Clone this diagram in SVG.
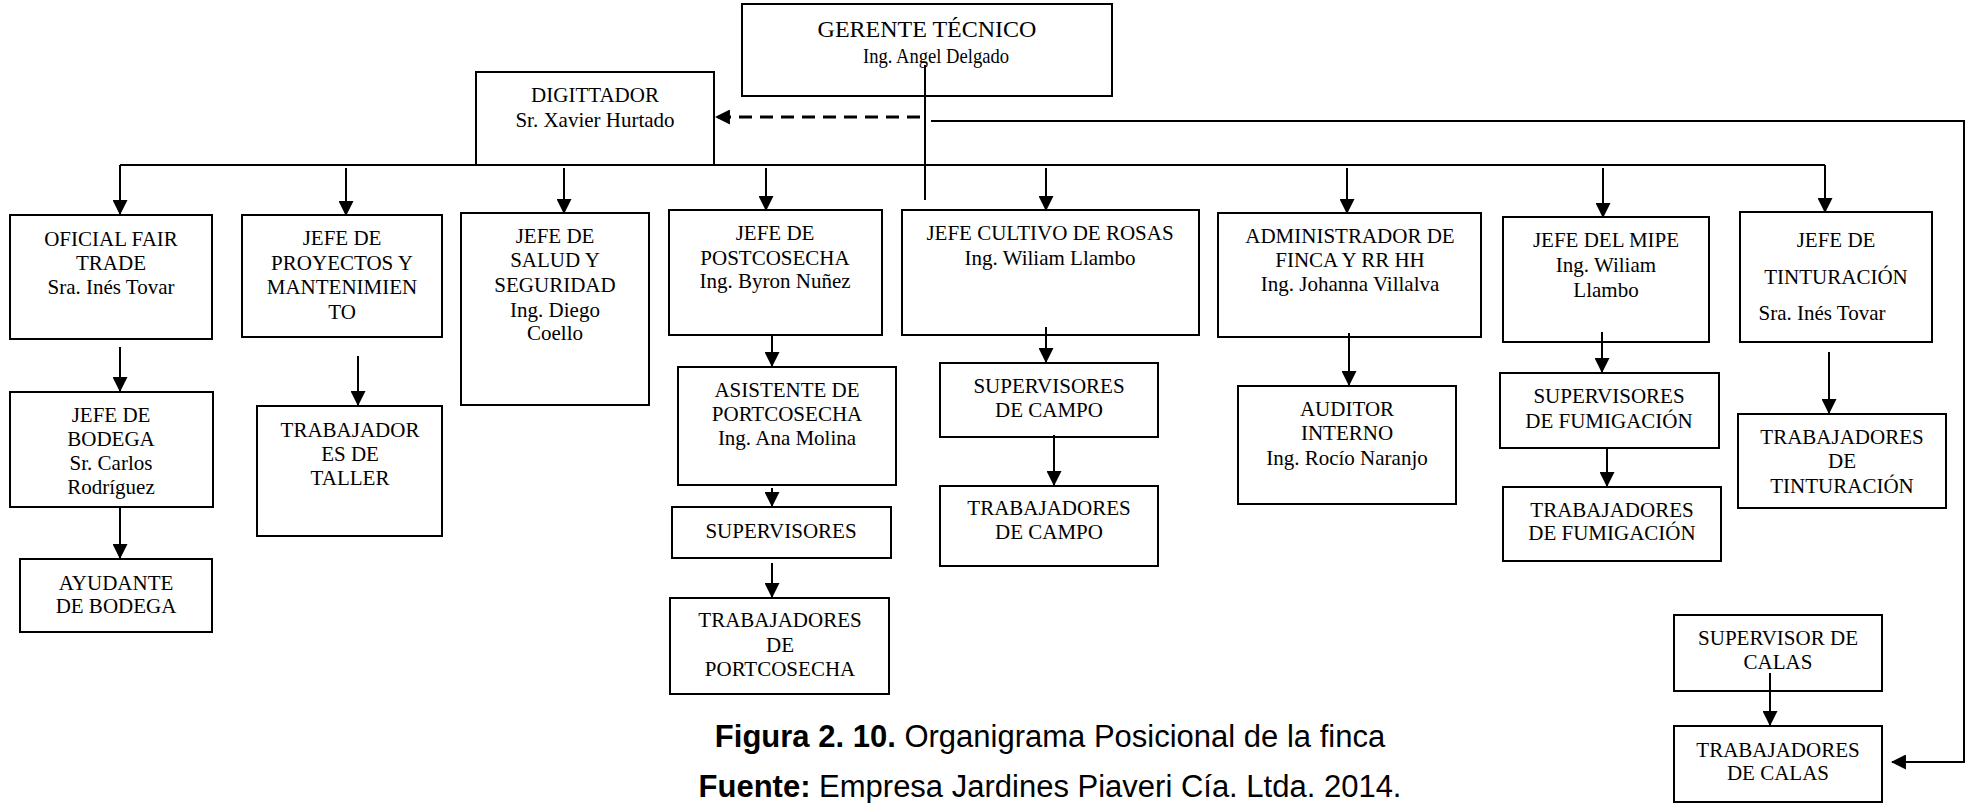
<svg xmlns="http://www.w3.org/2000/svg" width="1966" height="803" viewBox="0 0 1966 803">
<style>
.box{fill:#fff;stroke:#000;stroke-width:2}
.t{font-family:"Liberation Serif","Times New Roman",serif;font-size:21px;text-anchor:middle;fill:#000}
.cap{font-family:"Liberation Sans",Arial,sans-serif;font-size:31px;text-anchor:middle;fill:#000}
.b{font-weight:bold}
.ln{stroke:#000;stroke-width:2;fill:none}
.ar{stroke:#000;stroke-width:2;fill:none;marker-end:url(#ah)}
.dash{stroke:#000;stroke-width:3;fill:none;stroke-dasharray:13 8;marker-end:url(#ah)}
</style>
<defs>
<marker id="ah" markerUnits="userSpaceOnUse" markerWidth="15" markerHeight="15" viewBox="0 0 14 14" refX="13" refY="7" orient="auto">
<path d="M0,0 L14,7 L0,14 z" fill="#000"/>
</marker>
</defs>
<rect width="1966" height="803" fill="#fff"/>

<g id="gerente"><rect class="box" x="742" y="4" width="370" height="92"/>
<text class="t" x="927" y="37" style="font-size:24px">GERENTE TÉCNICO</text>
<text class="t" x="936" y="63" textLength="146" lengthAdjust="spacingAndGlyphs">Ing. Angel Delgado</text></g>

<g id="digittador"><rect class="box" x="476" y="72" width="238" height="93"/>
<text class="t" x="595" y="102">DIGITTADOR</text>
<text class="t" x="595" y="127">Sr. Xavier Hurtado</text></g>

<g id="fairtrade"><rect class="box" x="10" y="215" width="202" height="124"/>
<text class="t" x="111" y="246">OFICIAL FAIR</text>
<text class="t" x="111" y="270">TRADE</text>
<text class="t" x="111" y="294">Sra. Inés Tovar</text></g>

<g id="proyectos"><rect class="box" x="242" y="215" width="200" height="122"/>
<text class="t" x="342" y="245">JEFE DE</text>
<text class="t" x="342" y="270">PROYECTOS Y</text>
<text class="t" x="342" y="294">MANTENIMIEN</text>
<text class="t" x="342" y="319">TO</text></g>

<g id="salud"><rect class="box" x="461" y="213" width="188" height="192"/>
<text class="t" x="555" y="243">JEFE DE</text>
<text class="t" x="555" y="267">SALUD Y</text>
<text class="t" x="555" y="292">SEGURIDAD</text>
<text class="t" x="555" y="317">Ing. Diego</text>
<text class="t" x="555" y="340">Coello</text></g>

<g id="postcosecha"><rect class="box" x="669" y="210" width="213" height="125"/>
<text class="t" x="775" y="240">JEFE DE</text>
<text class="t" x="775" y="265">POSTCOSECHA</text>
<text class="t" x="775" y="288">Ing. Byron Nuñez</text></g>

<g id="rosas"><rect class="box" x="902" y="210" width="297" height="125"/>
<text class="t" x="1050" y="240">JEFE CULTIVO DE ROSAS</text>
<text class="t" x="1050" y="265">Ing. Wiliam Llambo</text></g>

<g id="administrador"><rect class="box" x="1218" y="213" width="263" height="124"/>
<text class="t" x="1350" y="243">ADMINISTRADOR DE</text>
<text class="t" x="1350" y="267">FINCA Y RR HH</text>
<text class="t" x="1350" y="291">Ing. Johanna Villalva</text></g>

<g id="mipe"><rect class="box" x="1503" y="217" width="206" height="125"/>
<text class="t" x="1606" y="247">JEFE DEL MIPE</text>
<text class="t" x="1606" y="272">Ing. Wiliam</text>
<text class="t" x="1606" y="297">Llambo</text></g>

<g id="tinturacion"><rect class="box" x="1740" y="212" width="192" height="130"/>
<text class="t" x="1836" y="247">JEFE DE</text>
<text class="t" x="1836" y="284">TINTURACIÓN</text>
<text class="t" x="1822" y="320">Sra. Inés Tovar</text></g>

<g id="bodega"><rect class="box" x="10" y="392" width="203" height="115"/>
<text class="t" x="111" y="422">JEFE DE</text>
<text class="t" x="111" y="446">BODEGA</text>
<text class="t" x="111" y="470">Sr. Carlos</text>
<text class="t" x="111" y="494">Rodríguez</text></g>

<g id="ayudante"><rect class="box" x="20" y="559" width="192" height="73"/>
<text class="t" x="116" y="590">AYUDANTE</text>
<text class="t" x="116" y="613">DE BODEGA</text></g>

<g id="taller"><rect class="box" x="257" y="406" width="185" height="130"/>
<text class="t" x="350" y="437">TRABAJADOR</text>
<text class="t" x="350" y="461">ES DE</text>
<text class="t" x="350" y="485">TALLER</text></g>

<g id="asistente"><rect class="box" x="678" y="367" width="218" height="118"/>
<text class="t" x="787" y="397">ASISTENTE DE</text>
<text class="t" x="787" y="421">PORTCOSECHA</text>
<text class="t" x="787" y="445">Ing. Ana Molina</text></g>

<g id="supervisores"><rect class="box" x="672" y="507" width="219" height="51"/>
<text class="t" x="781" y="538">SUPERVISORES</text></g>

<g id="trab-portcosecha"><rect class="box" x="670" y="598" width="219" height="96"/>
<text class="t" x="780" y="627">TRABAJADORES</text>
<text class="t" x="780" y="652">DE</text>
<text class="t" x="780" y="676">PORTCOSECHA</text></g>

<g id="sup-campo"><rect class="box" x="940" y="363" width="218" height="74"/>
<text class="t" x="1049" y="393">SUPERVISORES</text>
<text class="t" x="1049" y="417">DE CAMPO</text></g>

<g id="trab-campo"><rect class="box" x="940" y="486" width="218" height="80"/>
<text class="t" x="1049" y="515">TRABAJADORES</text>
<text class="t" x="1049" y="539">DE CAMPO</text></g>

<g id="auditor"><rect class="box" x="1238" y="386" width="218" height="118"/>
<text class="t" x="1347" y="416">AUDITOR</text>
<text class="t" x="1347" y="440">INTERNO</text>
<text class="t" x="1347" y="465">Ing. Rocío Naranjo</text></g>

<g id="sup-fumigacion"><rect class="box" x="1500" y="373" width="219" height="75"/>
<text class="t" x="1609" y="403">SUPERVISORES</text>
<text class="t" x="1609" y="428">DE FUMIGACIÓN</text></g>

<g id="trab-fumigacion"><rect class="box" x="1503" y="487" width="218" height="74"/>
<text class="t" x="1612" y="517">TRABAJADORES</text>
<text class="t" x="1612" y="540">DE FUMIGACIÓN</text></g>

<g id="trab-tinturacion"><rect class="box" x="1738" y="414" width="208" height="94"/>
<text class="t" x="1842" y="444">TRABAJADORES</text>
<text class="t" x="1842" y="468">DE</text>
<text class="t" x="1842" y="493">TINTURACIÓN</text></g>

<g id="sup-calas"><rect class="box" x="1674" y="615" width="208" height="76"/>
<text class="t" x="1778" y="645">SUPERVISOR DE</text>
<text class="t" x="1778" y="669">CALAS</text></g>

<g id="trab-calas"><rect class="box" x="1674" y="726" width="208" height="76"/>
<text class="t" x="1778" y="757">TRABAJADORES</text>
<text class="t" x="1778" y="780">DE CALAS</text></g>

<g id="connectors">
<path class="ln" d="M120,165 H1825"/>
<path class="ar" d="M120,165 V214"/>
<path class="ar" d="M346,168 V215"/>
<path class="ar" d="M564,168 V213"/>
<path class="ar" d="M766,168 V210"/>
<path class="ar" d="M1046,168 V210"/>
<path class="ar" d="M1347,168 V213"/>
<path class="ar" d="M1603,168 V217"/>
<path class="ar" d="M1825,165 V212"/>
<path class="ln" d="M925,65 V200"/>
<path class="dash" d="M920,117 H716"/>
<path class="ar" d="M931,121 H1964 V762 H1892"/>
<path class="ar" d="M120,347 V391"/>
<path class="ar" d="M120,507 V558"/>
<path class="ar" d="M358,356 V405"/>
<path class="ar" d="M772,335 V366"/>
<path class="ar" d="M772,488 V506"/>
<path class="ar" d="M772,563 V597"/>
<path class="ar" d="M1046,327 V362"/>
<path class="ar" d="M1054,435 V485"/>
<path class="ar" d="M1349,333 V385"/>
<path class="ar" d="M1602,332 V372"/>
<path class="ar" d="M1607,448 V486"/>
<path class="ar" d="M1829,352 V413"/>
<path class="ar" d="M1770,673 V725"/>
</g>

<g id="caption">
<text class="cap" x="1050" y="747"><tspan class="b">Figura 2. 10.</tspan> Organigrama Posicional de la finca</text>
<text class="cap" x="1050" y="797"><tspan class="b">Fuente:</tspan> Empresa Jardines Piaveri Cía. Ltda. 2014.</text>
</g>
</svg>
